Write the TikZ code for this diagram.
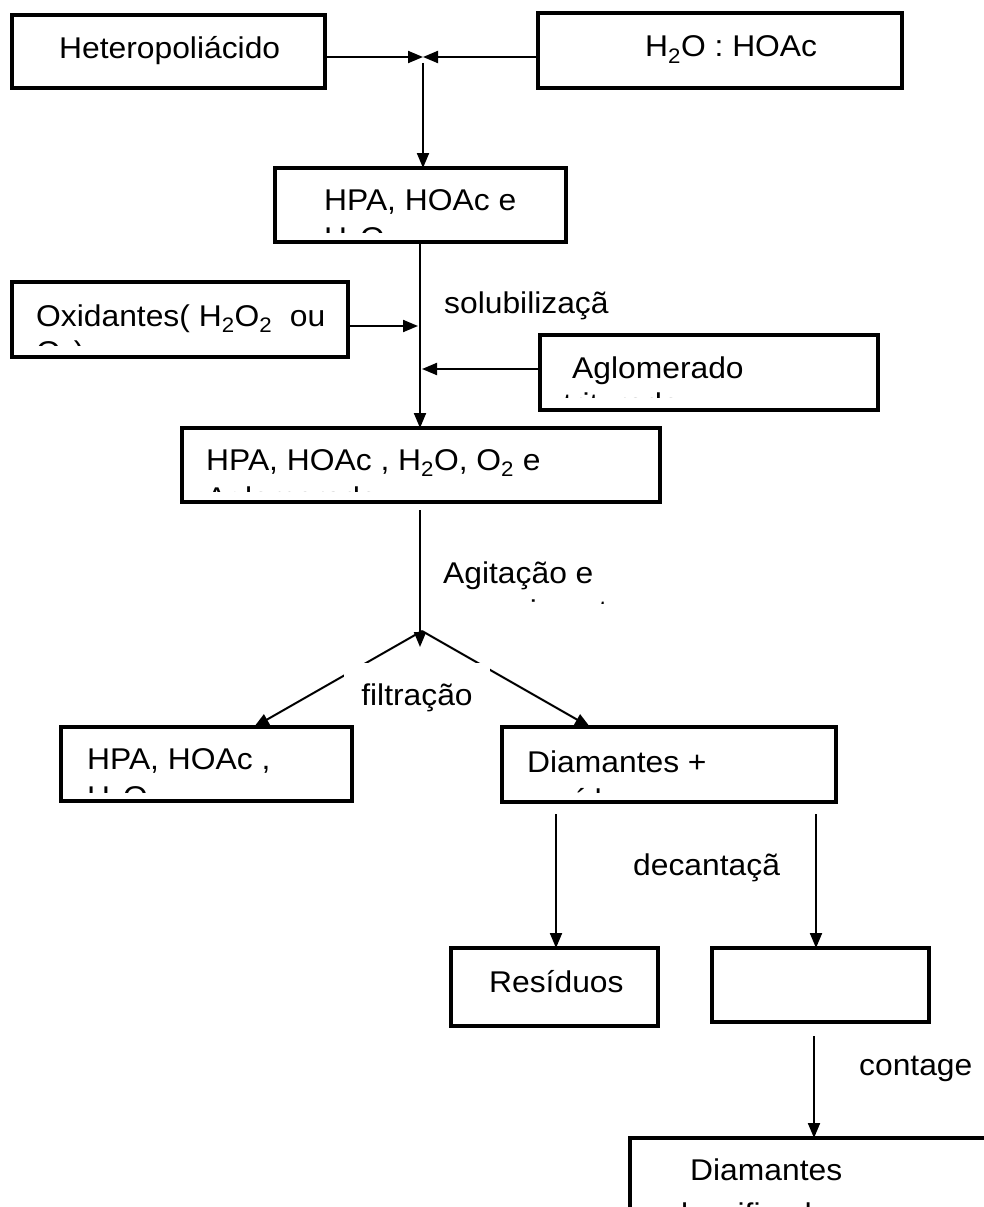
\documentclass[tikz,border=0pt]{standalone}
\usepackage{fontspec}
\setmainfont[FakeStretch=1.06]{Liberation Sans}
\usepackage{tikz}
\usetikzlibrary{arrows.meta}
\tikzstyle{arrow} = [line width=2pt,-{Triangle[length=15pt,width=12pt]}]
\tikzstyle{box} = [draw, rectangle, line width=3.5pt, outer sep=0pt, anchor=north west]
\tikzstyle{txt} = [anchor=base west, inner sep=0pt]

\begin{document}
\begin{tikzpicture}[x=1pt, y=-1pt, every node/.style={font=\fontsize{30}{36}\selectfont}]
        \clip (0,0) rectangle (984,1207);
        % Boxes
        \node[box, minimum width=313pt, minimum height=73pt] (hetero) at (12,15) {};
        \node[box, minimum width=364pt, minimum height=75pt] (h2o) at (538,13) {};
        \node[box, minimum width=291pt, minimum height=74pt] (hpa) at (275,168) {};
        \node[box, minimum width=336pt, minimum height=75pt] (oxid) at (12,282) {};
        \node[box, minimum width=338pt, minimum height=75pt] (aglo) at (540,335) {};
        \node[box, minimum width=478pt, minimum height=74pt] (mist) at (182,428) {};
        \node[box, minimum width=291pt, minimum height=74pt] (liq) at (61,727) {};
        \node[box, minimum width=334pt, minimum height=75pt] (solid) at (502,727) {};
        \node[box, minimum width=207pt, minimum height=78pt] (resid) at (451,948) {};
        \node[box, minimum width=217pt, minimum height=74pt] (limpo) at (712,948) {};
        \node[box, minimum width=400pt, minimum height=100pt] (final) at (630,1138) {};

        % Texts
        \node[txt] (hetero-t) at (59,59) {Heteropoliácido};
        \node[txt] (h2o-t) at (645,57) {H\textsubscript{2}O : HOAc};
        \node[txt] (hpa-t) at (324,210) {HPA, HOAc e};
        \begin{scope}
          \clip (275,168) rectangle (566,232);
          \node[txt] (hpa-t2) at (324,248) {H\textsubscript{2}O};
        \end{scope}
        \node[txt] (oxid-t) at (36,326) {Oxidantes( H\textsubscript{2}O\textsubscript{2}\ \ ou};
        \begin{scope}
          \clip (12,282) rectangle (348,345);
          \node[txt] (oxid-t2) at (36,362) {O\textsubscript{3})};
        \end{scope}
        \node[txt] (aglo-t) at (572,378) {Aglomerado};
        \begin{scope}
          \clip (540,335) rectangle (878,397);
          \node[txt] (aglo-t2) at (563,414) {triturado};
        \end{scope}
        \node[txt] (solub) at (444,313) {solubilizaçã};
        \node[txt] (mist-t) at (206,470) {HPA, HOAc , H\textsubscript{2}O, O\textsubscript{2} e};
        \begin{scope}
          \clip (182,428) rectangle (660,491);
          \node[txt] (mist-t2) at (206,508) {Aglomerado};
        \end{scope}
        \node[txt] (agit) at (443,583) {Agitação e};
        \begin{scope}
          \clip (400,540) rectangle (700,603);
          \node[txt] (agit2) at (443,621) {aquecimento};
        \end{scope}
        \node[txt] (liq-t) at (87,769) {HPA, HOAc ,};
        \begin{scope}
          \clip (61,727) rectangle (352,792);
          \node[txt] (liq-t2) at (87,807) {H\textsubscript{2}O};
        \end{scope}
        \node[txt] (solid-t) at (527,772) {Diamantes +};
        \begin{scope}
          \clip (502,727) rectangle (836,792);
          \node[txt] (solid-t2) at (531,810) {resíduos};
        \end{scope}
        \node[txt] (decant) at (633,875) {decantaçã};
        \node[txt] (resid-t) at (489,992) {Resíduos};
        \node[txt] (contag) at (859,1075) {contage};
        \node[txt] (final-t) at (690,1180) {Diamantes};
        \node[txt] (final-t2) at (665,1224) {classificados};

        % Junctions
        \coordinate (mix) at (423,57);
        \coordinate (c1) at (420,0);
        \coordinate (oxin) at (418,326);
        \coordinate (agin) at (422,369);
        \coordinate (drop) at (420,647);
        \coordinate (peak) at (422,631);
        \coordinate (lt) at (254,0);
        \coordinate (rt) at (590,0);
        \coordinate (dl) at (556,0);
        \coordinate (dr) at (816,0);
        \coordinate (df) at (814,0);

        \draw[arrow] (hetero.east |- mix) -- (mix);
        \draw[arrow] (h2o.west |- mix) -- (mix);
        \draw[arrow, shorten <=6pt] (mix) -- (hpa.north -| mix);
        \draw[arrow] (hpa.south -| c1) -- (mist.north -| c1);
        \draw[arrow] (oxid.east |- oxin) -- (oxin);
        \draw[arrow] (aglo.west |- agin) -- (agin);
        \draw[arrow, shorten <=8pt] (mist.south -| drop) -- (drop);
        \draw[arrow] (peak) -- (liq.north -| lt);
        \draw[arrow] (peak) -- (solid.north -| rt);
        \draw[arrow, shorten <=12pt] (solid.south -| dl) -- (resid.north -| dl);
        \draw[arrow, shorten <=12pt] (solid.south -| dr) -- (limpo.north -| dr);
        \draw[arrow, shorten <=14pt] (limpo.south -| df) -- (final.north -| df);

        % Label over the split
        \node[fill=white, anchor=base, inner xsep=17pt, inner ysep=0pt, text height=42pt, text depth=10pt] (filt) at (417,705) {filtração};
\end{tikzpicture}
\end{document}
